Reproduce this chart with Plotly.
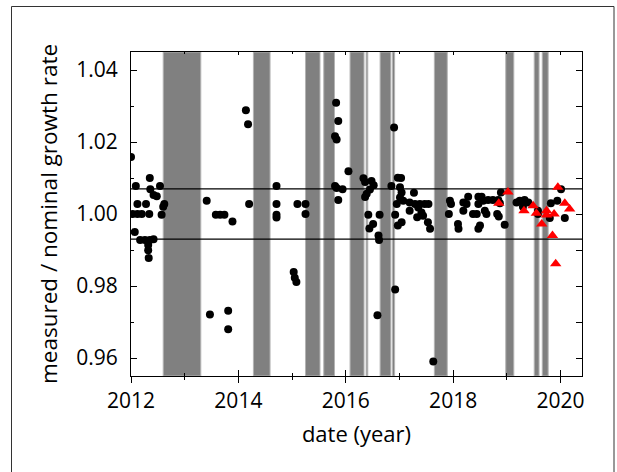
import plotly.graph_objects as go

# measurement dates (decimal year) and measured / nominal growth rate ratios
dates_black = [
    2012.00, 2012.09, 2012.35, 2012.36, 2012.42, 2012.48, 2012.54, 2012.12, 2012.28, 2012.62,
    2012.60, 2012.57, 2012.03, 2012.12, 2012.20, 2012.34, 2012.07, 2012.17, 2012.26, 2012.35,
    2012.42, 2012.32, 2012.32, 2012.33,
    2013.41, 2013.58, 2013.66, 2013.74, 2013.89, 2013.47, 2013.81, 2013.81,
    2014.14, 2014.18, 2014.20, 2014.71, 2014.71, 2014.71, 2014.71,
    2015.03, 2015.05, 2015.08, 2015.10, 2015.25, 2015.25,
    2015.82, 2015.86, 2015.80, 2015.83, 2015.80, 2015.83, 2015.94, 2015.86,
    2016.05, 2016.33, 2016.36, 2016.48, 2016.52, 2016.45, 2016.39, 2016.36, 2016.42, 2016.63,
    2016.51, 2016.44, 2016.61, 2016.62, 2016.59,
    2016.90, 2016.85, 2016.97, 2017.03, 2017.01, 2017.04, 2017.01, 2017.07, 2016.95, 2016.92,
    2017.04, 2016.97, 2016.92,
    2017.27, 2017.19, 2017.29, 2017.38, 2017.47, 2017.54, 2017.19, 2017.35, 2017.41, 2017.33,
    2017.44, 2017.53, 2017.57, 2017.63,
    2017.94, 2017.96, 2017.92, 2018.09, 2018.10, 2018.19, 2018.19, 2018.28, 2018.25, 2018.37,
    2018.44, 2018.47, 2018.53, 2018.56, 2018.47, 2018.59, 2018.62, 2018.50, 2018.47, 2018.65,
    2018.74, 2018.84, 2018.87, 2018.89, 2018.82, 2018.85, 2018.96,
    2019.18, 2019.24, 2019.33, 2019.40, 2019.30, 2019.58, 2019.58, 2019.82, 2019.80, 2019.94,
    2020.01, 2020.08,
]
ratio_black = [
    1.0158, 1.0078, 1.0100, 1.0069, 1.0053, 1.0049, 1.0078, 1.0028, 1.0028, 1.0028,
    1.0020, 0.9998, 1.0000, 1.0000, 1.0000, 1.0000, 0.9950, 0.9928, 0.9928, 0.9928,
    0.9930, 0.9914, 0.9899, 0.9878,
    1.0037, 0.9998, 0.9998, 0.9998, 0.9979, 0.9721, 0.9731, 0.9680,
    1.0288, 1.0249, 1.0028, 1.0078, 1.0028, 0.9998, 0.9990,
    0.9839, 0.9823, 0.9811, 1.0028, 1.0028, 1.0000,
    1.0309, 1.0258, 1.0216, 1.0207, 1.0078, 1.0072, 1.0069, 1.0039,
    1.0119, 1.0099, 1.0089, 1.0092, 1.0080, 1.0068, 1.0056, 1.0047, 0.9998, 0.9998,
    0.9972, 0.9960, 0.9940, 0.9928, 0.9719,
    1.0240, 1.0078, 1.0101, 1.0100, 1.0074, 1.0060, 1.0046, 1.0037, 1.0028, 0.9998,
    0.9977, 0.9968, 0.9790,
    1.0059, 1.0032, 1.0028, 1.0028, 1.0028, 1.0028, 1.0009, 1.0018, 1.0004, 0.9991,
    0.9995, 0.9977, 0.9959, 0.9590,
    1.0037, 1.0028, 1.0000, 0.9972, 0.9959, 1.0032, 1.0009, 1.0048, 1.0028, 1.0000,
    1.0000, 1.0048, 1.0048, 1.0037, 1.0028, 1.0009, 1.0000, 0.9968, 0.9959, 1.0039,
    1.0039, 1.0039, 1.0030, 1.0060, 1.0000, 0.9993, 0.9970,
    1.0032, 1.0037, 1.0039, 1.0032, 1.0020, 1.0009, 1.0000, 1.0030, 0.9989, 1.0037,
    1.0069, 0.9989,
]

dates_red = [2018.85, 2019.02, 2019.32, 2019.49, 2019.55, 2019.65, 2019.74, 2019.74,
             2019.88, 2019.85, 2019.91, 2019.95, 2020.08, 2020.17]
ratio_red = [1.0030, 1.0061, 1.0009, 1.0023, 1.0002, 0.9972, 1.0009, 0.9997,
             1.0000, 0.9940, 0.9862, 1.0074, 1.0030, 1.0014]

# shaded periods (decimal year start, end)
band_start = [2012.60, 2014.28, 2015.25, 2015.59, 2016.08, 2016.38, 2016.64, 2016.87,
              2017.65, 2018.98, 2019.51, 2019.66]
band_end = [2013.30, 2014.59, 2015.52, 2015.79, 2016.34, 2016.41, 2016.84, 2016.91,
            2017.89, 2019.13, 2019.60, 2019.77]

# tolerance limits
limits = [1.007, 0.993]

x_range = [2012.0, 2020.40]
y_range = [0.955, 1.045]
x_ticks = [2012, 2014, 2016, 2018, 2020]
y_ticks = [0.96, 0.98, 1.00, 1.02, 1.04]

FONT = "Open Sans"
W, H = 617, 472
L, R, T, B = 131, 35, 52, 96

fig = go.Figure()
fig.add_trace(go.Scatter(
    x=dates_black, y=ratio_black, mode="markers",
    marker=dict(symbol="circle", size=8, color="black", line=dict(width=0)),
    showlegend=False, hoverinfo="x+y"))
fig.add_trace(go.Scatter(
    x=dates_red, y=ratio_red, mode="markers",
    marker=dict(symbol="triangle-up", size=10, color="#ff0000", line=dict(width=0)),
    showlegend=False, hoverinfo="x+y"))
# empty traces that bring the overlay axes (tick decorations) to life
fig.add_trace(go.Scatter(x=[], y=[], xaxis="x2", yaxis="y", showlegend=False))
fig.add_trace(go.Scatter(x=[], y=[], xaxis="x3", yaxis="y", showlegend=False))
fig.add_trace(go.Scatter(x=[], y=[], xaxis="x", yaxis="y2", showlegend=False))

for s, e in zip(band_start, band_end):
    fig.add_shape(type="rect", xref="x", yref="paper", x0=s, x1=e, y0=0, y1=1,
                  fillcolor="#808080", line=dict(color="#b4b4b4", width=1), layer="below")
for v in limits:
    fig.add_shape(type="line", xref="paper", yref="y", x0=0, x1=1, y0=v, y1=v,
                  line=dict(color="black", width=1.2), layer="below")

# outer frame around the figure
pw = W - L - R
ph = H - T - B
fig.add_shape(type="rect", xref="paper", yref="paper",
              x0=(11.5 - L) / pw, x1=(614 - L) / pw,
              y0=(H - B - 490) / ph, y1=(H - B - 6.5) / ph,
              line=dict(color="#333333", width=1), fillcolor="rgba(0,0,0,0)")

tickfont = dict(family=FONT, size=21, color="black")
common_line = dict(showline=True, linecolor="black", linewidth=1.2, showgrid=False, zeroline=False)

fig.update_layout(
    width=W, height=H,
    margin=dict(l=L, r=R, t=T, b=B, pad=0),
    paper_bgcolor="white", plot_bgcolor="white",
    font=dict(family=FONT, color="black"),
    xaxis=dict(range=x_range, tickvals=x_ticks, ticktext=[str(t) for t in x_ticks],
               ticks="outside", ticklen=6, tickwidth=1.2, tickcolor="black",
               minor=dict(dtick=1, ticks="outside", ticklen=3, tickwidth=1, tickcolor="black"),
               tickfont=tickfont,
               title=dict(text="date (year)", font=dict(family=FONT, size=22, color="black"),
                          standoff=13),
               **common_line),
    xaxis2=dict(range=x_range, overlaying="x", side="bottom", tickvals=x_ticks,
                ticks="inside", ticklen=6, tickwidth=1.2, tickcolor="black",
                minor=dict(dtick=1, ticks="inside", ticklen=3, tickwidth=1, tickcolor="black"),
                showticklabels=False, **common_line),
    xaxis3=dict(range=x_range, overlaying="x", side="top", tickvals=x_ticks,
                ticks="inside", ticklen=3, tickwidth=1, tickcolor="black",
                minor=dict(dtick=1, ticks="inside", ticklen=2, tickwidth=1, tickcolor="black"),
                showticklabels=False, **common_line),
    yaxis=dict(range=y_range, tickvals=y_ticks, ticktext=[f"{t:.2f}" for t in y_ticks],
               ticks="inside", ticklen=6, tickwidth=1.2, tickcolor="black",
               minor=dict(dtick=0.01, ticks="inside", ticklen=3, tickwidth=1, tickcolor="black"),
               tickfont=tickfont, ticklabelstandoff=8,
               title=dict(text="measured / nominal growth rate",
                          font=dict(family=FONT, size=22.5, color="black"), standoff=12),
               **common_line),
    yaxis2=dict(range=y_range, overlaying="y", side="right", tickvals=y_ticks,
                ticks="inside", ticklen=6, tickwidth=1.2, tickcolor="black",
                minor=dict(dtick=0.01, ticks="inside", ticklen=6, tickwidth=1, tickcolor="black"),
                showticklabels=False, **common_line),
)

fig.write_html("out.html")
